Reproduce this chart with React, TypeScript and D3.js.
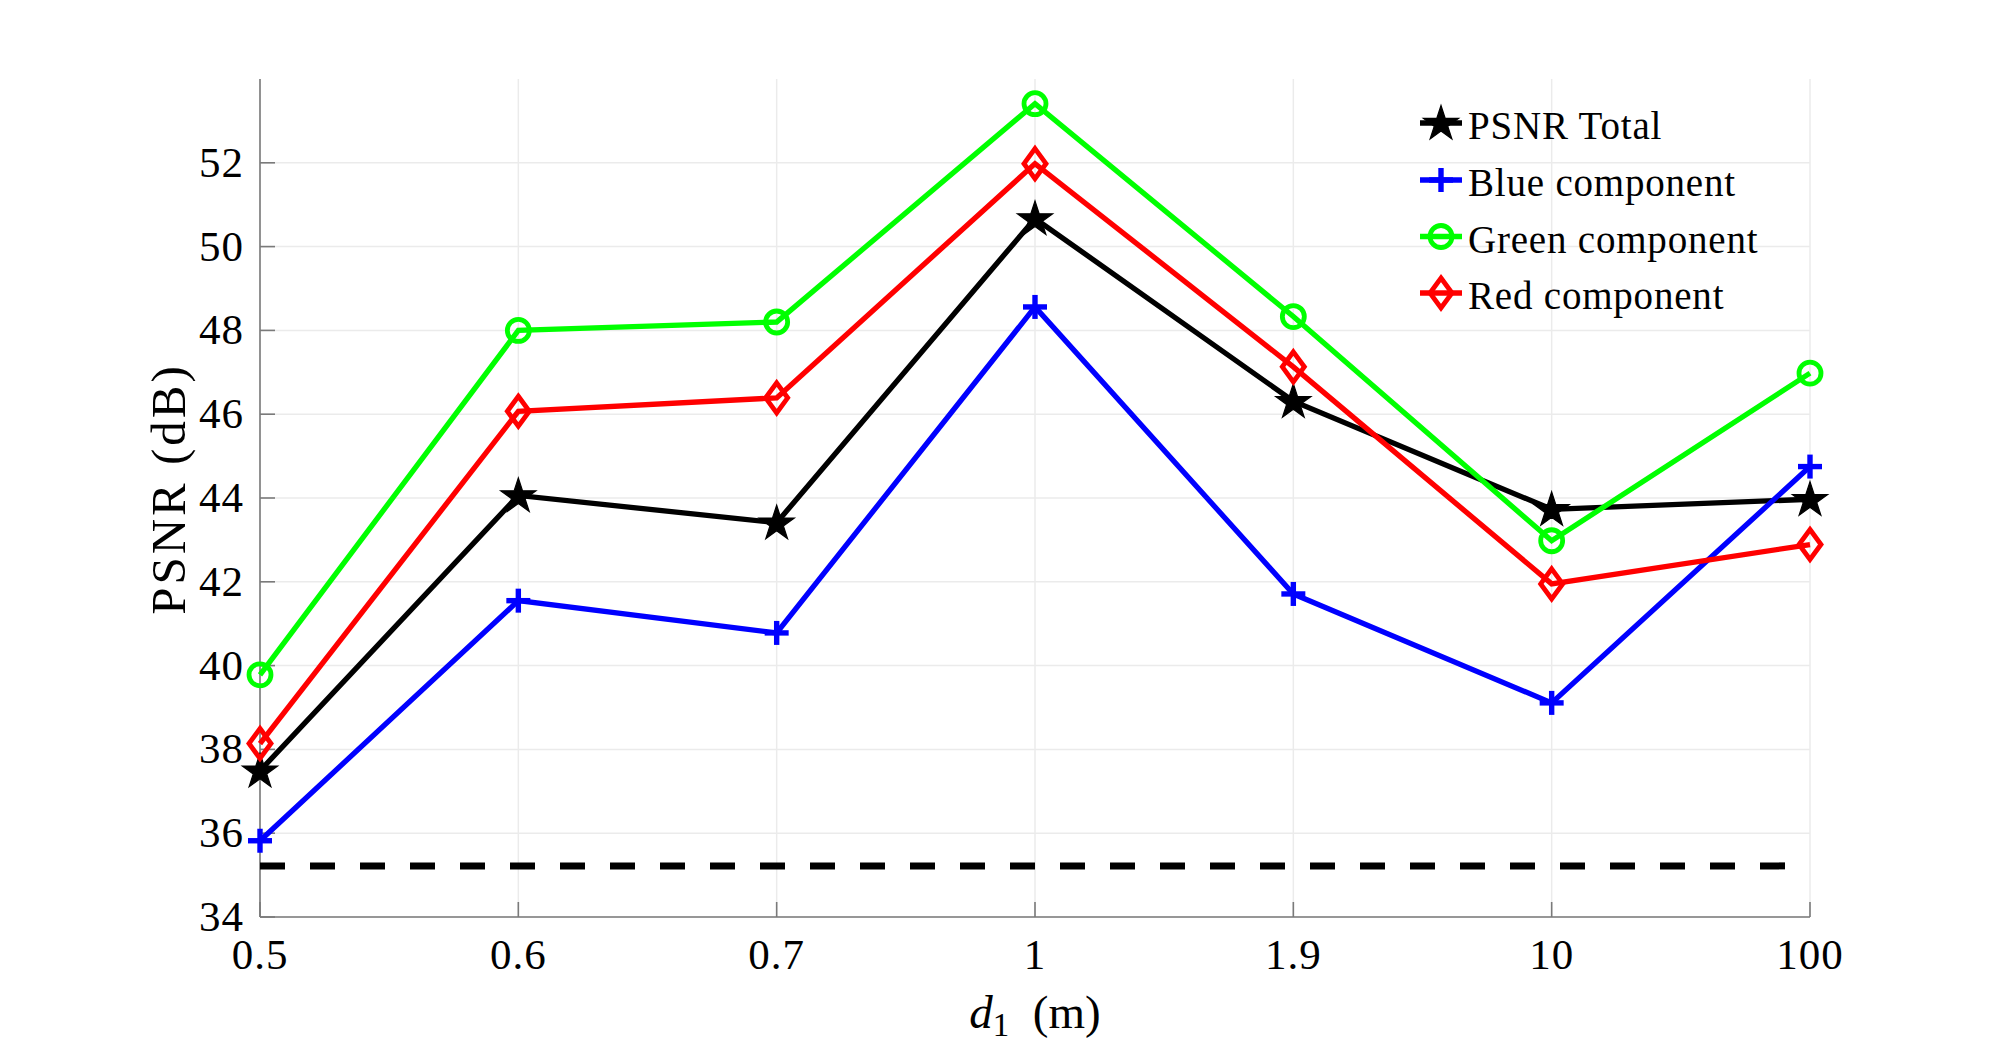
import React from "react";
import * as d3 from "d3";

const categories = ["0.5", "0.6", "0.7", "1", "1.9", "10", "100"];
const psnrTotal = [37.49, 44.06, 43.41, 50.67, 46.31, 43.73, 43.97];
const blueComp = [35.82, 41.55, 40.78, 48.56, 41.71, 39.11, 44.75];
const greenComp = [39.78, 48.0, 48.2, 53.41, 48.33, 42.98, 46.98];
const redComp = [38.14, 46.07, 46.39, 51.98, 47.13, 41.95, 42.89];
const thresholdValue = 35.22;
const yTicks = [34, 36, 38, 40, 42, 44, 46, 48, 50, 52];
const yDomain = [34, 54];

const seriesNames = ["PSNR Total", "Blue component", "Green component", "Red component"];
const seriesColors = ["#000000", "#0000ff", "#00ff00", "#ff0000"];
const seriesMarkers = ["star", "plus", "circle", "diamond"];
const seriesData = [psnrTotal, blueComp, greenComp, redComp];

const W = 2000;
const H = 1053;
const L = 260, R = 1810, T = 79, B = 917;
const FONT = "'Liberation Serif', 'Times New Roman', serif";

function starPath(R0: number) {
  const r = R0 * 0.382;
  const pts: string[] = [];
  for (let i = 0; i < 10; i++) {
    const rad = i % 2 === 0 ? R0 : r;
    const a = -Math.PI / 2 + (i * Math.PI) / 5;
    pts.push(`${(rad * Math.cos(a)).toFixed(2)},${(rad * Math.sin(a)).toFixed(2)}`);
  }
  return "M" + pts.join("L") + "Z";
}

function Marker({ kind, color, x, y }: { kind: string; color: string; x: number; y: number }) {
  if (kind === "star") {
    return <path d={starPath(18.5)} transform={`translate(${x},${y + 1})`} fill={color} stroke={color} strokeWidth={1.2} />;
  }
  if (kind === "plus") {
    return (
      <g transform={`translate(${x},${y})`} stroke={color} strokeWidth={5.4}>
        <line x1={-12} x2={12} y1={0} y2={0} />
        <line x1={0} x2={0} y1={-12} y2={12} />
      </g>
    );
  }
  if (kind === "circle") {
    return <circle cx={x} cy={y} r={11} fill="none" stroke={color} strokeWidth={4.8} />;
  }
  return (
    <path
      d={`M0,-15L11,0L0,15L-11,0Z`}
      transform={`translate(${x},${y})`}
      fill="none"
      stroke={color}
      strokeWidth={4.8}
      strokeLinejoin="miter"
    />
  );
}

export default function App() {
  const x = d3.scalePoint<string>().domain(categories).range([L, R]);
  const y = d3.scaleLinear().domain(yDomain).range([B, T]);
  const line = d3
    .line<number>()
    .x((_, i) => x(categories[i]) as number)
    .y((d) => y(d));

  const axisColor = "#7a7a7a";
  const gridColor = "#ebebeb";

  const legendX = 1441;
  const legendRows = [123, 180, 236.5, 293];

  return (
    <div style={{ position: "absolute", left: 0, top: 0 }}>
      <svg width={W} height={H} viewBox={`0 0 ${W} ${H}`} style={{ display: "block", background: "#fff" }}>
        <rect x={0} y={0} width={W} height={H} fill="#ffffff" />
        {/* grid */}
        <g stroke={gridColor} strokeWidth={1.5}>
          {categories.map((c) => (
            <line key={c} x1={x(c)} x2={x(c)} y1={T} y2={B} />
          ))}
          {yTicks.map((t) => (
            <line key={t} x1={L} x2={R} y1={y(t)} y2={y(t)} />
          ))}
        </g>
        {/* axes */}
        <g stroke={axisColor} strokeWidth={1.6}>
          <line x1={L} x2={L} y1={T} y2={B} />
          <line x1={L} x2={R} y1={B} y2={B} />
          {categories.map((c) => (
            <line key={c} x1={x(c)} x2={x(c)} y1={B} y2={B - 15} />
          ))}
          {yTicks.map((t) => (
            <line key={t} x1={L} x2={L + 15} y1={y(t)} y2={y(t)} />
          ))}
        </g>
        {/* tick labels */}
        <g fontFamily={FONT} fontSize={43} fill="#000">
          {categories.map((c) => (
            <text key={c} x={x(c)} y={969} textAnchor="middle" letterSpacing={1}>
              {c}
            </text>
          ))}
          {yTicks.map((t) => (
            <text key={t} x={244} y={y(t) + 14} textAnchor="end" letterSpacing={1}>
              {t}
            </text>
          ))}
        </g>
        {/* axis labels */}
        <text x={1035} y={1028} textAnchor="middle" fontFamily={FONT} fontSize={47} fill="#000">
          <tspan fontStyle="italic">d</tspan>
          <tspan fontSize={33} dy={8}>1</tspan>
          <tspan dy={-8}>{"\u2002(m)"}</tspan>
        </text>
        <text
          transform={`translate(185,489) rotate(-90)`}
          textAnchor="middle"
          fontFamily={FONT}
          fontSize={49}
          letterSpacing={3}
          fill="#000"
        >
          PSNR (dB)
        </text>
        {/* threshold dashed line */}
        <line
          x1={L}
          x2={R}
          y1={y(thresholdValue)}
          y2={y(thresholdValue)}
          stroke="#000"
          strokeWidth={7}
          strokeDasharray="25 25"
        />
        {/* series */}
        {seriesData.map((data, si) => (
          <g key={si}>
            <path d={line(data) as string} fill="none" stroke={seriesColors[si]} strokeWidth={5.3} strokeLinejoin="miter" />
            {data.map((v, i) => (
              <Marker key={i} kind={seriesMarkers[si]} color={seriesColors[si]} x={x(categories[i]) as number} y={y(v)} />
            ))}
          </g>
        ))}
        {/* legend */}
        <g>
          {seriesNames.map((name, si) => (
            <g key={name}>
              <line
                x1={legendX - 21}
                x2={legendX + 21}
                y1={legendRows[si]}
                y2={legendRows[si]}
                stroke={seriesColors[si]}
                strokeWidth={5.3}
              />
              <Marker kind={seriesMarkers[si]} color={seriesColors[si]} x={legendX} y={legendRows[si]} />
              <text x={1468} y={legendRows[si] + 16} fontFamily={FONT} fontSize={39} letterSpacing={0.8} fill="#000">
                {name}
              </text>
            </g>
          ))}
        </g>
      </svg>
    </div>
  );
}
